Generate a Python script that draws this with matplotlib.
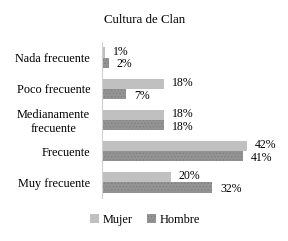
import numpy as np
import matplotlib.pyplot as plt

plt.rcParams['font.family'] = ['Liberation Serif', 'DejaVu Serif']
plt.rcParams['hatch.linewidth'] = 0.4

categorias = ["Nada frecuente", "Poco frecuente", "Medianamente\nfrecuente",
              "Frecuente", "Muy frecuente"]
mujer = [1, 18, 18, 42, 20]
hombre = [2, 7, 18, 41, 32]

fig = plt.figure(figsize=(2.88, 2.41), dpi=100)
ax = fig.add_axes([102/288, 1-198/241, 155/288, 156/241])

y = np.arange(len(categorias))
h = 0.33
b1 = ax.barh(y - h/2, mujer, height=h, color='#c0c0c0', label='Mujer')
b2 = ax.barh(y + h/2, hombre, height=h, color='#939393', edgecolor='#7c7c7c',
             linewidth=0, hatch='.....', label='Hombre')

for i, v in enumerate(mujer):
    ax.text(v + 2.3, y[i] - h/2 - 0.03, f"{v}%", va='center', ha='left', fontsize=8.5)
for i, v in enumerate(hombre):
    ax.text(v + 2.3, y[i] + h/2 + 0.05, f"{v}%", va='center', ha='left', fontsize=8.5)

ax.set_xlim(0, 45)
ax.set_ylim(len(categorias) - 0.5, -0.5)
ax.set_yticks(y)
ax.set_yticklabels(categorias, fontsize=8.8, ha='right', multialignment='center')
ax.tick_params(axis='y', length=0, pad=8.5)
ax.set_xticks([])
for s in ['top', 'right', 'bottom']:
    ax.spines[s].set_visible(False)
ax.spines['left'].set_color('#d0d0d0')
ax.spines['left'].set_linewidth(0.8)

fig.text(145/288, 1-20/241, "Cultura de Clan", ha='center', va='center', fontsize=9.3)
fig.legend(handles=[b1, b2], loc='center', bbox_to_anchor=(145/288, 1-220/241),
           ncol=2, frameon=False, fontsize=8.8, handlelength=0.7, handleheight=0.7,
           columnspacing=1.2, handletextpad=0.3)

fig.savefig("out.png", dpi=100)
